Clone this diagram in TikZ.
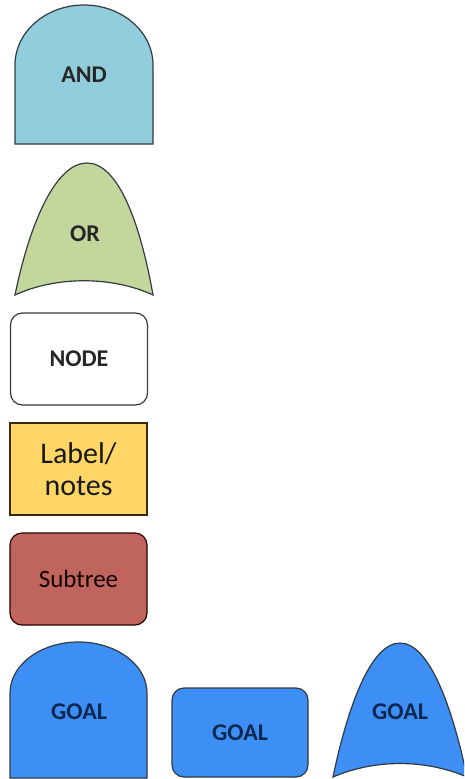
\documentclass[tikz,border=0pt]{standalone}
\usepackage{fontspec}
\setmainfont{Carlito}
\definecolor{andfill}{HTML}{92CDDC}
\definecolor{orfill}{HTML}{C3D69B}
\definecolor{labfill}{HTML}{FFD566}
\definecolor{subfill}{HTML}{C0645E}
\definecolor{goalfill}{HTML}{3D8EF5}
\definecolor{edge}{HTML}{333B40}
\definecolor{goaltext}{HTML}{0D2850}
\begin{document}
\begin{tikzpicture}[x=1pt,y=-1pt,
  shp/.style={draw=edge,line width=1.2pt},
  boldtxt/.style={font=\fontsize{24}{28}\selectfont\bfseries,text=black!85},
  goaltxt/.style={font=\fontsize{24}{28}\selectfont\bfseries,text=goaltext},
  box/.style={shp,minimum width=137pt,minimum height=92pt,inner sep=0pt}]
\useasboundingbox (0,0) rectangle (464,779);
\clip (0,0) rectangle (464,779);
% AND
\draw[shp,fill=andfill] (15,144) -- (15,65) .. controls (15,31.9) and (45.9,5) .. (84,5)
  .. controls (122.1,5) and (153,31.9) .. (153,65) -- (153,144) -- cycle;
\node[boldtxt] (and) at (84,75) {AND};
% OR
\draw[shp,fill=orfill] (15,295) .. controls (30,222) and (56,163) .. (87,163)
  .. controls (118,163) and (140,222) .. (153,295)
  .. controls (112,276) and (56,276) .. (15,295) -- cycle;
\node[boldtxt] (or) at (85,234) {OR};
% NODE
\node[box,rounded corners=12pt,fill=white] (node) at (79,359) {};
\node[boldtxt] (nodetxt) at (79,359) {NODE};
% Label
\node[box,fill=labfill,draw=black!70!brown,align=center,
  font=\fontsize{30}{32}\selectfont,text=black!90] (label) at (78.5,469) {Label/\\notes};
% Subtree
\node[box,rounded corners=12pt,fill=subfill,draw=black!60!red!40!black,
  font=\fontsize{25}{28}\selectfont,text=black!75!red!30!black] (subtree) at (78.5,579) {Subtree};
% GOAL dome
\draw[shp,fill=goalfill] (10,778) -- (10,693) .. controls (10,664.8) and (40.7,642) .. (78.5,642)
  .. controls (116.3,642) and (147,664.8) .. (147,693) -- (147,778) -- cycle;
\node[goaltxt] (goal1) at (79,712) {GOAL};
% GOAL rect
\node[shp,rounded corners=12pt,fill=goalfill,minimum width=136pt,minimum height=89pt] (goal2) at (240,732.5) {};
\node[goaltxt] (goal2txt) at (240,733) {GOAL};
% GOAL or
\draw[shp,fill=goalfill] (333,777) .. controls (347,710) and (370,643) .. (400,643)
  .. controls (430,643) and (453,710) .. (467,777)
  .. controls (425,759) and (375,759) .. (333,777) -- cycle;
\node[goaltxt] (goal3) at (400,712) {GOAL};
\end{tikzpicture}
\end{document}
